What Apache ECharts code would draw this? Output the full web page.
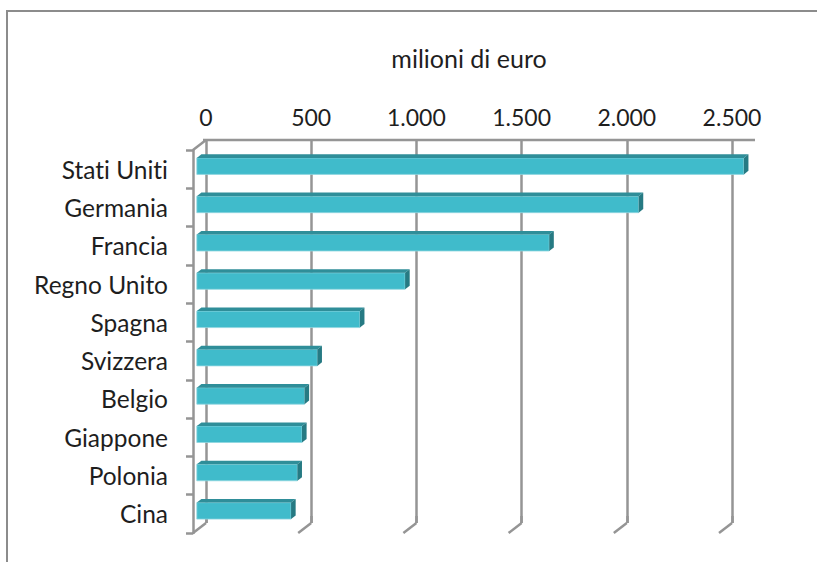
<!DOCTYPE html>
<html>
<head>
<meta charset="utf-8">
<script src="https://cdn.jsdelivr.net/npm/echarts@6/dist/echarts.min.js"></script>
<style>
html,body{margin:0;padding:0;background:#fff;}
#chart{width:817px;height:562px;}
#chart text{font-variant-ligatures:none;font-feature-settings:"liga" 0,"clig" 0;}
</style>
</head>
<body>
<div id="chart"></div>
<script>
const categories = ['Stati Uniti','Germania','Francia','Regno Unito','Spagna','Svizzera','Belgio','Giappone','Polonia','Cina'];
const values = [2600, 2100, 1675, 990, 775, 573, 512, 500, 478, 448];
const tickValues = [0, 500, 1000, 1500, 2000, 2500];
const axisTitle = 'milioni di euro';

const FONT = 'Lato';
const GRID_COLOR = '#959595';
const DEPTH_X = 13, DEPTH_Y = 10;

function fmt(v){ return String(v).replace(/\B(?=(\d{3})+(?!\d))/g, '.'); }

const chart = echarts.init(document.getElementById('chart'), null, {renderer:'svg'});

const option = {
  animation: false,
  backgroundColor: '#fff',
  graphic: [{
    type: 'rect', silent: true, z: -10,
    shape: {x: 7, y: 11, width: 900, height: 700},
    style: {fill: 'none', stroke: '#8c8c8c', lineWidth: 2}
  }],
  grid: [
    {left: 206, top: 140, width: 526, height: 383},
    {left: 193, top: 150, width: 526, height: 383}
  ],
  xAxis: [
    {
      gridIndex: 0, type: 'value', position: 'top', min: 0, max: 2500, interval: 500,
      name: axisTitle, nameLocation: 'middle', nameGap: 70,
      nameTextStyle: {fontFamily: FONT, fontSize: 25, color: '#1e1e1e'},
      axisLine: {show: false},
      axisTick: {show: true, length: 7, lineStyle: {color: GRID_COLOR, width: 2.5}},
      axisLabel: {formatter: fmt, margin: 12, fontFamily: FONT, fontSize: 23, color: '#1e1e1e'},
      splitLine: {show: true, lineStyle: {color: GRID_COLOR, width: 2.5}}
    },
    {
      gridIndex: 1, type: 'value', min: 0, max: 2500, interval: 500, show: false,
      splitLine: {show: false}
    }
  ],
  yAxis: [
    {gridIndex: 0, type: 'value', min: 0, max: 1, show: false, splitLine: {show: false}},
    {
      gridIndex: 1, type: 'category', data: categories, inverse: true,
      axisLine: {show: true, lineStyle: {color: GRID_COLOR, width: 2.5}},
      axisTick: {show: true, length: 7, lineStyle: {color: GRID_COLOR, width: 2.5}},
      axisLabel: {margin: 25, fontFamily: FONT, fontSize: 24.5, color: '#1e1e1e'},
      splitLine: {show: false}
    }
  ],
  series: [
    {
      type: 'custom', xAxisIndex: 0, yAxisIndex: 0, z: 1, silent: true,
      data: tickValues,
      renderItem: function(params, api){
        const v = api.value(0);
        const cs = params.coordSys;
        const bottom = api.coord([v, 0]);
        const top = api.coord([v, 1]);
        const style = {stroke: GRID_COLOR, lineWidth: 2.5};
        const children = [{
          type: 'line',
          shape: {x1: bottom[0], y1: bottom[1], x2: bottom[0] - DEPTH_X, y2: bottom[1] + DEPTH_Y},
          style: style
        }];
        if (params.dataIndex === 0) {
          children.push({
            type: 'line',
            shape: {x1: top[0], y1: top[1], x2: top[0] - DEPTH_X, y2: top[1] + DEPTH_Y},
            style: style
          });
          children.push({
            type: 'line',
            shape: {x1: cs.x - 3, y1: cs.y, x2: cs.x + cs.width + 23, y2: cs.y},
            style: style
          });
        }
        return {type: 'group', children: children};
      }
    },
    {
      type: 'custom', xAxisIndex: 1, yAxisIndex: 1, z: 5, silent: true,
      data: values.map(function(v, i){ return [v, i]; }),
      renderItem: function(params, api){
        const v = api.value(0);
        const idx = api.value(1);
        const p0 = api.coord([0, idx]);
        const p1 = api.coord([v, idx]);
        const band = api.size([0, 1])[1];
        const h = band * 0.43;
        const ox = 3.8, oy = -3;
        const dx = 4.6, dy = 3.6;
        const xl = p0[0] + ox, xr = p1[0] + ox;
        const yt = p0[1] + oy - h / 2, yb = p0[1] + oy + h / 2;
        return {
          type: 'group',
          children: [
            {type: 'rect', shape: {x: xl, y: yt, width: xr - xl, height: h},
             style: {fill: '#40bbcb', stroke: '#8fd6e0', lineWidth: 0.8}},
            {type: 'polygon', shape: {points: [[xl, yt], [xr, yt], [xr + dx, yt - dy], [xl + dx, yt - dy]]},
             style: {fill: '#2f8e99'}},
            {type: 'polygon', shape: {points: [[xr, yt], [xr + dx, yt - dy], [xr + dx, yb - dy], [xr, yb]]},
             style: {fill: '#267a83'}}
          ]
        };
      }
    }
  ]
};
chart.setOption(option);
</script>
</body>
</html>
